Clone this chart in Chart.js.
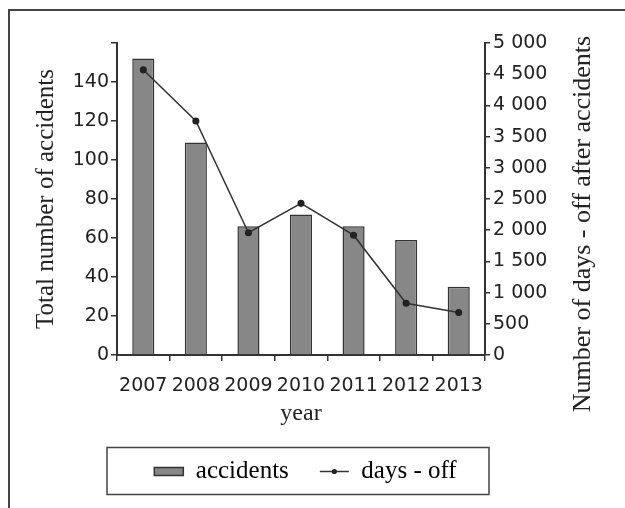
<!DOCTYPE html>
<html><head><meta charset="utf-8">
<script src="https://cdn.jsdelivr.net/npm/chart.js@4/dist/chart.umd.min.js"></script>
<style>
html,body{margin:0;padding:0;background:#fff;}
#wrap{position:relative;width:625px;height:508px;overflow:hidden;background:#fff;}
#frame{position:absolute;left:8px;top:9px;width:700px;height:600px;border-top:2px solid #444;border-left:2px solid #444;}
canvas{position:absolute;left:0;top:0;}
</style></head><body>
<div id="wrap"><div id="frame"></div><canvas id="c" width="625" height="508"></canvas></div>
<script>
const years = ['2007','2008','2009','2010','2011','2012','2013'];
const accidents = [152,109,66,72,66,59,35];
const daysOff = [4570,3750,1960,2430,1920,830,680];
const leftTickLabels = ['0','20','40','60','80','100','120','140',''];
const rightTickLabels = ['0','500','1 000','1 500','2 000','2 500','3 000','3 500','4 000','4 500','5 000'];
const seriesNames = ['accidents','days - off'];
const xTitle = 'year';
const leftTitle = 'Total number of accidents';
const rightTitle = 'Number of days - off after accidents';

const INK = '#333';
const BAR = '#878787';
const tickFont = {family:'DejaVu Sans', size:19};
const serif = 'Liberation Serif';

const decor = {
  id:'decor',
  afterDraw(chart){
    const ctx = chart.ctx;
    const lg = chart.legend;
    const ca = chart.chartArea;
    if (lg && lg.legendHitBoxes && lg.legendHitBoxes.length === 2){
      const h1 = lg.legendHitBoxes[1];
      const cy = h1.top + h1.height/2;
      ctx.save();
      ctx.fillStyle = '#222';
      ctx.beginPath();
      ctx.arc(h1.left + 29/2, cy, 2.6, 0, Math.PI*2);
      ctx.fill();
      ctx.strokeStyle = '#444';
      ctx.lineWidth = 1.5;
      ctx.strokeRect(ca.left - 10, cy - 24, (ca.right + 4) - (ca.left - 10), 47);
      ctx.restore();
    }
    ctx.save();
    ctx.translate(583, (ca.top + ca.bottom)/2 + 25);
    ctx.rotate(-Math.PI/2);
    ctx.font = '26px "' + serif + '"';
    ctx.fillStyle = '#222';
    ctx.textAlign = 'center';
    ctx.textBaseline = 'middle';
    ctx.fillText(rightTitle, 0, 0);
    ctx.restore();
  }
};

new Chart(document.getElementById('c'), {
  data: {
    labels: years,
    datasets: [
      {type:'bar', label: seriesNames[0], data: accidents, yAxisID:'y',
       backgroundColor: BAR, borderColor: INK, borderWidth: 1.5,
       barPercentage: 0.42, categoryPercentage: 1.0, order: 1},
      {type:'line', label: seriesNames[1], data: daysOff, yAxisID:'y1',
       borderColor: INK, borderWidth: 1.5, pointRadius: 2.8, pointBackgroundColor:'#222',
       pointBorderColor:'#222', tension: 0, fill:false, order: 0}
    ]
  },
  options: {
    responsive:false, animation:false, devicePixelRatio:1,
    layout:{padding:{top:43, left:0, right:14, bottom:14}},
    plugins:{
      tooltip:{enabled:false},
      legend:{
        position:'bottom',
        labels:{
          usePointStyle:true, pointStyleWidth:29, boxHeight:8, padding:31,
          color:'#222', font:{family:serif, size:25},
          generateLabels(){
            return [
              {text: seriesNames[0], fillStyle: BAR, strokeStyle: INK, lineWidth:1.5, pointStyle:'rect', datasetIndex:0, hidden:false},
              {text: seriesNames[1], fillStyle: INK, strokeStyle: INK, lineWidth:1.5, pointStyle:'line', datasetIndex:1, hidden:false}
            ];
          }
        }
      }
    },
    scales:{
      x:{
        type:'category', offset:true,
        grid:{offset:true, drawOnChartArea:false, drawTicks:true, tickLength:6, color:INK, lineWidth:1.5},
        border:{display:true, color:INK, width:2},
        ticks:{color:'#222', font:{family:'DejaVu Sans', size:19}, padding:14, maxRotation:0, autoSkip:false},
        title:{display:true, text:xTitle, color:'#222', font:{family:serif, size:24}, padding:{top:0,bottom:0}},
        afterFit(s){ s.height = 73; }
      },
      y:{
        type:'linear', position:'left', min:0, max:160,
        ticks:{stepSize:20, color:'#222', font:tickFont, padding:2,
               callback:(v,i)=> leftTickLabels[i]},
        grid:{drawOnChartArea:false, drawTicks:true, tickLength:6, color:INK, lineWidth:1.5},
        border:{display:true, color:INK, width:2},
        title:{display:true, text:leftTitle, color:'#222', font:{family:serif, size:25}, padding:{top:31,bottom:0}},
        afterFit(s){ s.width = 117; }
      },
      y1:{
        type:'linear', position:'right', min:0, max:5000,
        ticks:{stepSize:500, color:'#222', font:tickFont, padding:3,
               callback:(v,i)=> rightTickLabels[i]},
        grid:{drawOnChartArea:false, drawTicks:true, tickLength:5, color:INK, lineWidth:1.5},
        border:{display:true, color:INK, width:2},
        afterFit(s){ s.width = 126; }
      }
    }
  },
  plugins:[decor]
});
</script>
</body></html>
